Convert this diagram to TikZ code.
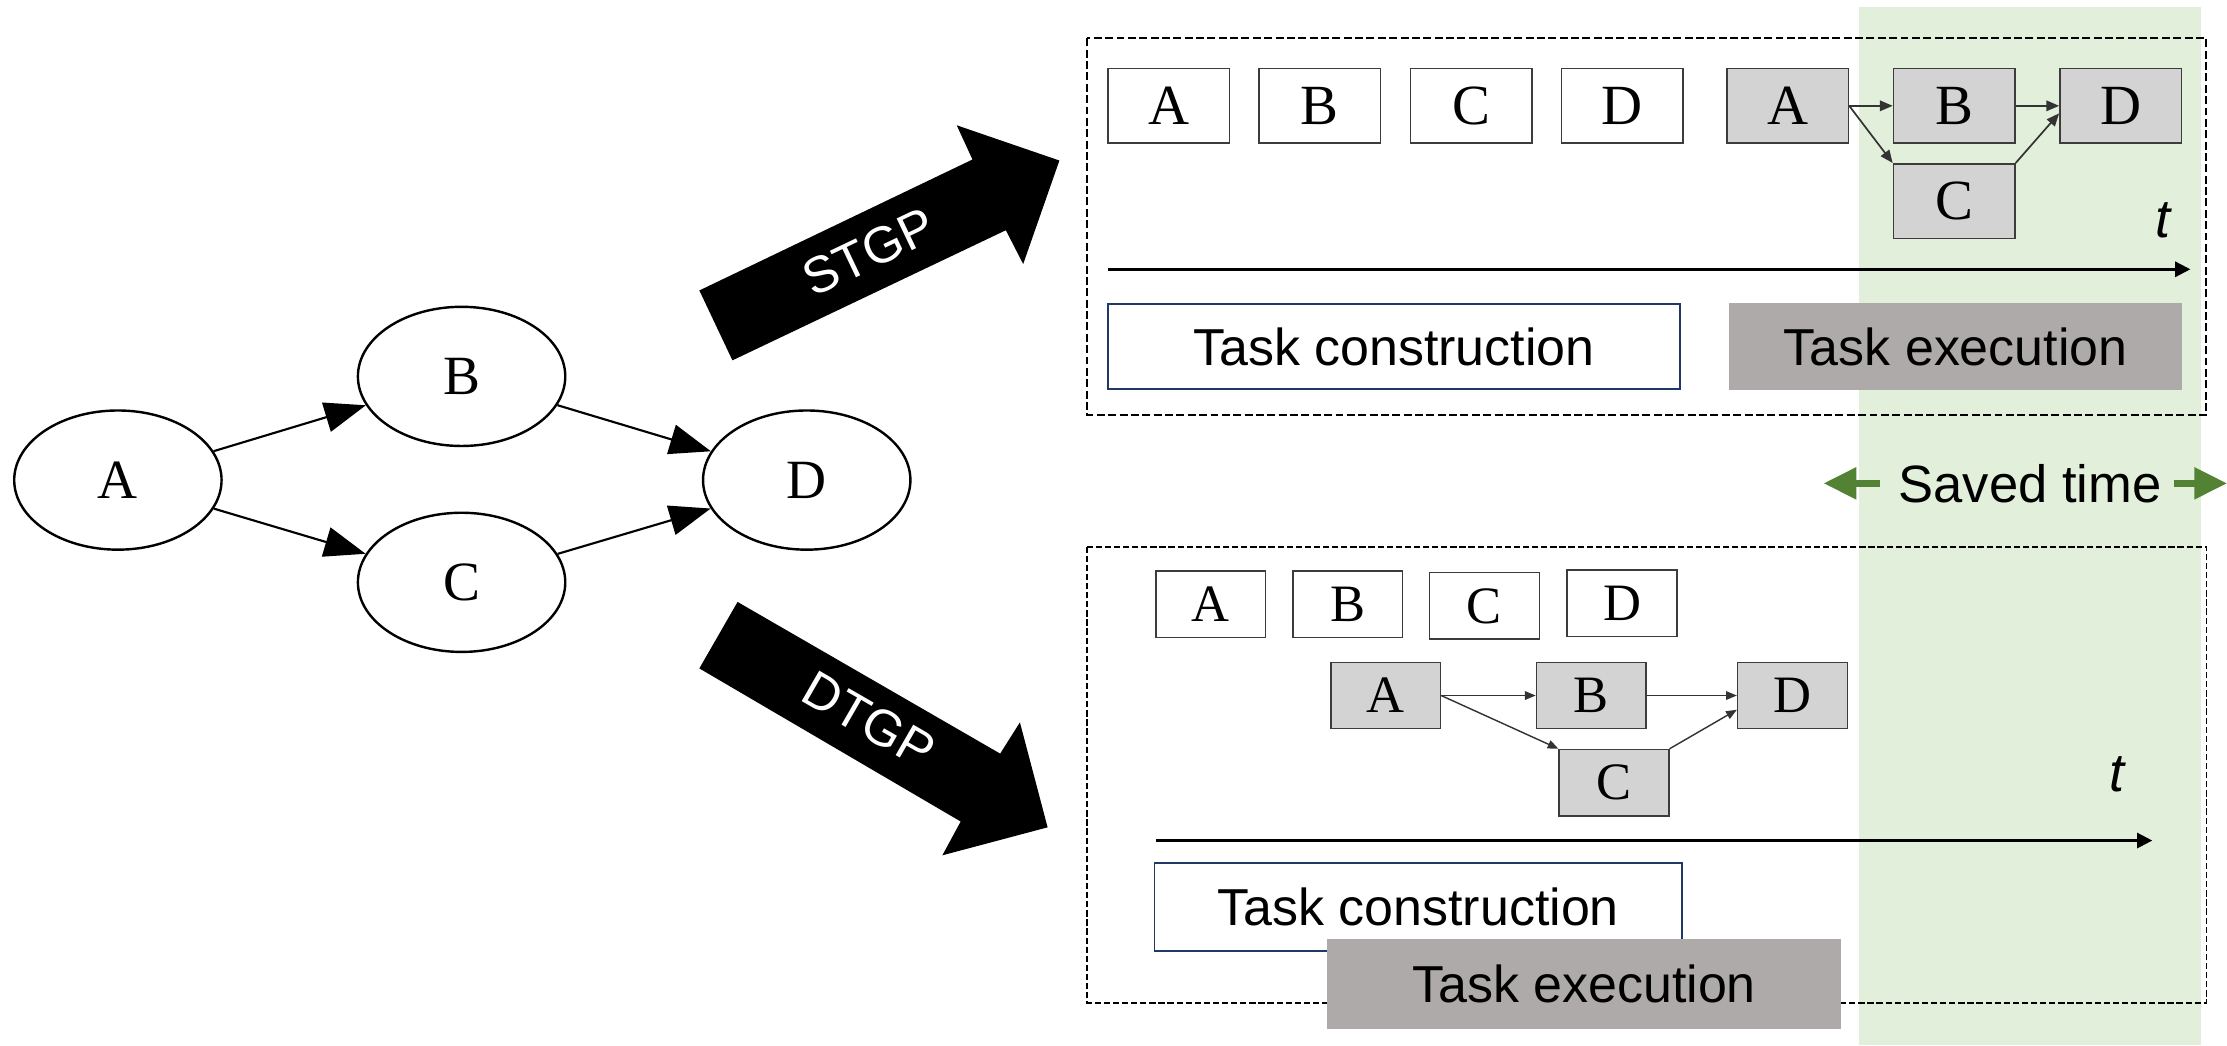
\documentclass[tikz,border=0pt]{standalone}
\usepackage{fontspec}
\setmainfont{Liberation Serif}
\newfontfamily\sansf{Liberation Sans}
\usetikzlibrary{shapes.geometric,arrows.meta,calc}

\definecolor{bandgreen}{RGB}{226,239,218}
\definecolor{arrowgreen}{RGB}{84,130,53}
\definecolor{boxgray}{RGB}{211,211,211}
\definecolor{boxedge}{RGB}{60,60,60}
\definecolor{execgray}{RGB}{174,170,170}
\definecolor{navyedge}{RGB}{32,56,100}

\tikzset{
  % task graph drawn as ellipses
  gnode/.style={ellipse, draw, line width=0.85pt, inner sep=0pt,
    minimum width=73pt, minimum height=49pt,
    font=\fontsize{19.5pt}{20pt}\selectfont},
  gedge/.style={line width=0.75pt, -{Triangle[length=14.5pt,width=10.6pt]}},
  % small task boxes, upper timeline
  tbox/.style={draw=boxedge, line width=0.55pt, inner sep=0pt,
    minimum width=42.75pt, minimum height=26.3pt,
    font=\fontsize{20pt}{20pt}\selectfont},
  wbox/.style={tbox, fill=white},
  gbox/.style={tbox, fill=boxgray},
  tedge/.style={draw=black!80, line width=0.6pt, -{Triangle[length=4.5pt,width=3.7pt]}},
  % small task boxes, lower timeline
  sbox/.style={draw=boxedge, line width=0.5pt, inner sep=0pt,
    minimum width=38.6pt, minimum height=23.4pt,
    font=\fontsize{18.5pt}{19pt}\selectfont},
  swbox/.style={sbox, fill=white},
  sgbox/.style={sbox, fill=boxgray},
  sedge/.style={draw=black!80, line width=0.5pt, -{Triangle[length=3.8pt,width=3pt]}},
  % phase bars
  constr/.style={draw=navyedge, line width=0.6pt, fill=white, inner sep=0pt,
    font=\sansf\fontsize{18.3pt}{20pt}\selectfont},
  exec/.style={fill=execgray, inner sep=0pt,
    font=\sansf\fontsize{18.3pt}{20pt}\selectfont},
  timeaxis/.style={line width=1.2pt, -{Triangle[length=5.4pt,width=5.2pt]}},
  tlabel/.style={font=\sansf\itshape\fontsize{19pt}{20pt}\selectfont},
  panel/.style={draw, dash pattern=on 2.8pt off 1.2pt, line width=0.7pt},
  panelthin/.style={draw, dash pattern=on 2.2pt off 1pt, line width=0.6pt},
  blockarrow/.style={fill=black},
  blocklabel/.style={text=white, font=\sansf\fontsize{18pt}{18pt}\selectfont},
  savedarrow/.style={arrowgreen, line width=2.25pt, -{Triangle[length=11.5pt,width=10.8pt]}},
}

\begin{document}
\begin{tikzpicture}[x=0.5pt, y=-0.5pt]
  \useasboundingbox (0,0) rectangle (1568,736);

  % saved-time band
  \fill[bandgreen] (1309,5.2) rectangle (1549.7,736);

  % panels
  \draw[panel] (765.5,27) rectangle (1553.4,292.2);
  \draw[panelthin] (765.5,384.9) rectangle (1553.6,706);

  % ---------- task graph ----------
  \node[gnode] (A) at (83,338) {A};
  \node[gnode] (B) at (325,265) {B};
  \node[gnode] (C) at (325,410) {C};
  \node[gnode] (D) at (568,338) {D};
  \draw[gedge] (A) -- (B);
  \draw[gedge] (A) -- (C);
  \draw[gedge] (B) -- (D);
  \draw[gedge] (C) -- (D);

  % ---------- block arrows ----------
  \fill[blockarrow] (492.4,204.5) -- (684.7,112.3) -- (673.6,88.2) -- (745.9,113)
    -- (720.4,185.9) -- (708.2,162.1) -- (515.7,253.7) -- cycle;
  \node[blocklabel, rotate=25.5] (stgp) at (612,177.5) {STGP};

  \fill[blockarrow] (519.3,423.8) -- (704.2,530.6) -- (718.1,508.6) -- (737.6,582.5)
    -- (663.5,602.2) -- (676.4,578.4) -- (492.4,470.6) -- cycle;
  \node[blocklabel, rotate=-30] (dtgp) at (612,507) {DTGP};

  % ---------- upper timeline ----------
  \node[wbox] (uA) at (823,74.5) {A};
  \node[wbox] (uB) at (929.1,74.5) {B};
  \node[wbox] (uC) at (1035.7,74.5) {C};
  \node[wbox] (uD) at (1142.3,74.5) {D};

  \node[gbox] (xA) at (1258.7,74.5) {A};
  \node[gbox] (xB) at (1375.9,74.5) {B};
  \node[gbox] (xD) at (1493.1,74.5) {D};
  \node[gbox] (xC) at (1375.9,141.6) {C};
  \draw[tedge] (xA.east) -- (xB.west);
  \draw[tedge] (xA.east) -- (xC.north west);
  \draw[tedge] (xB.east) -- (xD.west);
  \draw[tedge] (xC.north east) -- ($(xD.west)+(0,5.3)$);

  \node[tlabel] (ut) at (1522.6,155) {t};
  \coordinate (uaxs) at (780,189.6);
  \coordinate (uaxe) at (1542.3,189.6);
  \draw[timeaxis] (uaxs) -- (uaxe);

  \node[constr, minimum width=201.4pt, minimum height=30pt] (uconstr) at (981.4,244) {Task construction};
  \node[exec, minimum width=159.6pt, minimum height=30.5pt] (uexec) at (1377,244.1) {Task execution};

  % ---------- saved time ----------
  \node[font=\sansf\fontsize{18.5pt}{20pt}\selectfont] (saved) at (1429.3,340.3) {Saved time};
  \coordinate (slfrom) at (1323.7,340.3);
  \coordinate (slto) at (1284,340.3);
  \coordinate (srfrom) at (1530.9,340.3);
  \coordinate (srto) at (1568,340.3);
  \draw[savedarrow] (slfrom) -- (slto);
  \draw[savedarrow] (srfrom) -- (srto);

  % ---------- lower timeline ----------
  \node[swbox] (lA) at (852.4,425.3) {A};
  \node[swbox] (lB) at (948.9,425.3) {B};
  \node[swbox] (lC) at (1045.2,426.6) {C};
  \node[swbox] (lD) at (1142,424.6) {D};

  \node[sgbox] (yA) at (975.6,489.7) {A};
  \node[sgbox] (yB) at (1120.4,489.7) {B};
  \node[sgbox] (yD) at (1262,489.7) {D};
  \node[sgbox] (yC) at (1136.4,551.1) {C};
  \draw[sedge] (yA.east) -- (yB.west);
  \draw[sedge] (yA.east) -- (yC.north west);
  \draw[sedge] (yB.east) -- (yD.west);
  \draw[sedge] (yC.north east) -- ($(yD.west)+(0,10)$);

  \node[tlabel] (lt) at (1490.7,545.5) {t};
  \coordinate (laxs) at (813.9,591.8);
  \coordinate (laxe) at (1515.5,591.8);
  \draw[timeaxis] (laxs) -- (laxe);

  \node[constr, minimum width=185.6pt, minimum height=31pt] (lconstr) at (998.5,638.8) {Task construction};
  \node[exec, minimum width=180.8pt, minimum height=31.8pt] (lexec) at (1115.3,692.8) {Task execution};
\end{tikzpicture}
\end{document}
